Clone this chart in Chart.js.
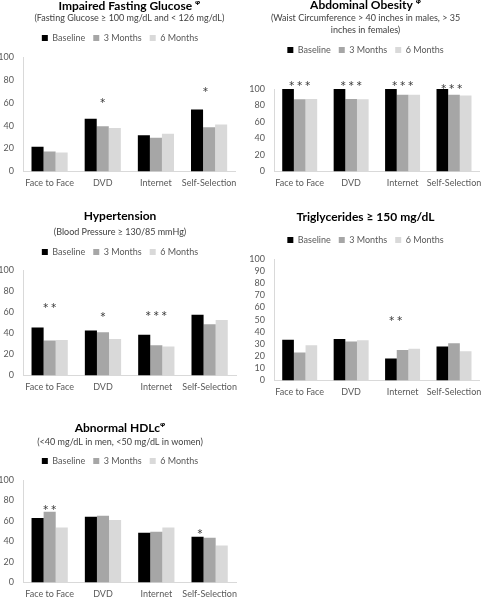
<!DOCTYPE html>
<html>
<head>
<meta charset="utf-8">
<script src="https://cdn.jsdelivr.net/npm/chart.js@4.4.1/dist/chart.umd.min.js"></script>
<style>
  html, body { margin: 0; padding: 0; background: #fff; overflow: hidden; }
  body { width: 488px; height: 605px; position: relative; }
  .panel { position: absolute; }
</style>
</head>
<body>
<div class="panel" style="left:0;top:0;width:244px;height:200px"><canvas id="ifg"></canvas></div>
<div class="panel" style="left:244px;top:0;width:244px;height:200px"><canvas id="obesity"></canvas></div>
<div class="panel" style="left:0;top:200px;width:244px;height:200px"><canvas id="hypertension"></canvas></div>
<div class="panel" style="left:244px;top:200px;width:244px;height:210px"><canvas id="trig"></canvas></div>
<div class="panel" style="left:0;top:400px;width:244px;height:210px"><canvas id="hdl"></canvas></div>
<script>
const categories = ['Face to Face', 'DVD', 'Internet', 'Self-Selection'];
const seriesNames = ['Baseline', '3 Months', '6 Months'];

// impaired fasting glucose, % of participants
const ifgBaseline = [21.5, 46, 31.5, 54];
const ifg3Months = [17.5, 39.5, 29.5, 38.5];
const ifg6Months = [16.5, 38, 33, 41];
const ifgStars = [{ cat: 'DVD', text: '*', y: 62, bar: 1 }, { cat: 'Self-Selection', text: '*', y: 72, bar: 0.7 }];

// abdominal obesity
const obesityBaseline = [100, 100, 100, 100];
const obesity3Months = [87.5, 88, 93, 93];
const obesity6Months = [88, 87.5, 93, 92];
const obesityStars = [
  { cat: 'Face to Face', text: '***', y: 107, bar: 1 },
  { cat: 'DVD', text: '***', y: 107, bar: 1 },
  { cat: 'Internet', text: '***', y: 107, bar: 1 },
  { cat: 'Self-Selection', text: '***', y: 103, bar: 0.8 }
];

// hypertension
const bpBaseline = [45.5, 42.5, 38.5, 57.5];
const bp3Months = [33, 41, 28.5, 48.5];
const bp6Months = [33.5, 34.5, 27.5, 52.5];
const bpStars = [
  { cat: 'Face to Face', text: '**', y: 66, bar: 1 },
  { cat: 'DVD', text: '*', y: 58, bar: 1 },
  { cat: 'Internet', text: '***', y: 59, bar: 1 }
];

// triglycerides >= 150
const tgBaseline = [33.5, 34, 18, 28];
const tg3Months = [23, 32, 25, 30.5];
const tg6Months = [29, 33, 26, 24];
const tgStars = [{ cat: 'Internet', text: '**', y: 51, bar: 0.4 }];

// abnormal HDLc
const hdlBaseline = [63, 64, 48.5, 44.5];
const hdl3Months = [69, 65, 49.5, 43.5];
const hdl6Months = [53.5, 61, 53.5, 36];
const hdlStars = [
  { cat: 'Face to Face', text: '**', y: 73.5, bar: 1 },
  { cat: 'Self-Selection', text: '*', y: 49.5, bar: 0.2 }
];

const barColors = ['#000000', '#a6a6a6', '#d9d9d9'];
const tickColor = '#595959';
const axisColor = '#d9d9d9';

Chart.defaults.font.family = "Lato, 'DejaVu Sans', sans-serif";

// empty box between legend and plot, for the gap the stars sit in
function spacer(h) {
  return {
    id: 'spacer',
    start(chart) {
      Chart.layouts.addBox(chart, {
        position: 'top', weight: 0, fullSize: true, options: {},
        isHorizontal() { return true; },
        update(maxWidth) { this.width = maxWidth; this.height = h; },
        draw() {}
      });
    }
  };
}

function stars(marks) {
  return {
    id: 'stars',
    afterDatasetsDraw(chart) {
      const ctx = chart.ctx;
      const yScale = chart.scales.y;
      ctx.save();
      ctx.font = "15px Lato, 'DejaVu Sans', sans-serif";
      ctx.fillStyle = '#404040';
      ctx.textAlign = 'center';
      ctx.textBaseline = 'alphabetic';
      const m0 = ctx.measureText('*');
      const shift = (m0.actualBoundingBoxAscent - m0.actualBoundingBoxDescent) / 2;
      marks.forEach(m => {
        const i = categories.indexOf(m.cat);
        const lo = Math.floor(m.bar), hi = Math.ceil(m.bar);
        const xa = chart.getDatasetMeta(lo).data[i].x;
        const xb = chart.getDatasetMeta(hi).data[i].x;
        const x = xa + (xb - xa) * (m.bar - lo);
        const y = yScale.getPixelForValue(m.y) + shift;
        const n = m.text.length;
        for (let k = 0; k < n; k++) {
          ctx.fillText(m.text[k], x + (k - (n - 1) / 2) * 8, y);
        }
      });
      ctx.restore();
    }
  };
}

function panel(id, p) {
  new Chart(document.getElementById(id), {
    type: 'bar',
    data: {
      labels: categories,
      datasets: p.values.map((v, i) => ({
        label: seriesNames[i],
        data: v,
        backgroundColor: barColors[i],
        categoryPercentage: 0.68,
        barPercentage: 1
      }))
    },
    plugins: [spacer(p.gap), stars(p.stars)],
    options: {
      responsive: true,
      maintainAspectRatio: false,
      animation: false,
      layout: { padding: { left: 0, top: 0, right: p.padRight, bottom: p.padBottom } },
      scales: {
        x: {
          grid: { display: false, drawTicks: false },
          border: { color: axisColor },
          ticks: { padding: 6.6, color: tickColor, font: { size: 9 }, maxRotation: 0, autoSkip: false }
        },
        y: {
          min: 0, max: 100,
          grid: { display: false, drawTicks: false },
          border: { color: axisColor },
          ticks: { stepSize: p.step, autoSkip: false, padding: 9, color: tickColor, font: { size: 9 } },
          afterFit(scale) { scale.width = p.axisX; }
        }
      },
      plugins: {
        title: {
          display: true, text: p.title, color: '#000',
          fullSize: !p.overPlot,
          font: { size: 12, weight: 'bold', lineHeight: 1 },
          padding: p.titlePad
        },
        subtitle: {
          display: !!p.subtitle, text: p.subtitle || '', color: '#404040',
          fullSize: !p.overPlot,
          font: { size: 9, lineHeight: p.subLine || 1.2 },
          padding: p.subPad || 0
        },
        legend: {
          labels: { boxWidth: 6, boxHeight: 6, padding: 8, color: tickColor, font: { size: 9 } }
        },
        tooltip: { enabled: false }
      }
    }
  });
}

panel('ifg', {
  title: 'Impaired Fasting Glucose \u1D60',
  subtitle: '(Fasting Glucose \u2265 100 mg/dL and < 126 mg/dL)',
  values: [ifgBaseline, ifg3Months, ifg6Months], stars: ifgStars, step: 20, overPlot: true,
  titlePad: { top: 0, bottom: 0 }, subPad: { top: 0.6, bottom: 2.1 },
  gap: 4.5, axisX: 23, padRight: 4, padBottom: 4.6
});

panel('obesity', {
  title: 'Abdominal Obesity \u1D60',
  subtitle: ['(Waist Circumference > 40 inches in males, > 35', 'inches in females)'], subLine: 12 / 9,
  values: [obesityBaseline, obesity3Months, obesity6Months], stars: obesityStars, step: 20,
  titlePad: { top: -1, bottom: 0 }, subPad: { top: 1, bottom: 1.5 },
  gap: 24.5, axisX: 30, padRight: 1, padBottom: 4.6
});

panel('hypertension', {
  title: 'Hypertension',
  subtitle: '(Blood Pressure \u2265 130/85 mmHg)',
  values: [bpBaseline, bp3Months, bp6Months], stars: bpStars, step: 20,
  titlePad: { top: 10, bottom: 0 }, subPad: { top: 4.6, bottom: 2.1 },
  gap: 3.5, axisX: 23, padRight: 4, padBottom: 0.6
});

panel('trig', {
  title: 'Triglycerides \u2265 150 mg/dL',
  values: [tgBaseline, tg3Months, tg6Months], stars: tgStars, step: 10,
  titlePad: { top: 11, bottom: 4.5 },
  gap: 4.5, axisX: 30, padRight: 1, padBottom: 5.6
});

panel('hdl', {
  title: 'Abnormal HDLc\u1D60',
  subtitle: '(<40 mg/dL in men, <50 mg/dL in women)',
  values: [hdlBaseline, hdl3Months, hdl6Months], stars: hdlStars, step: 20,
  titlePad: { top: 22, bottom: 0 }, subPad: { top: 2.6, bottom: 1.1 },
  gap: 4.5, axisX: 23, padRight: 4, padBottom: 3.6
});
</script>
</body>
</html>
